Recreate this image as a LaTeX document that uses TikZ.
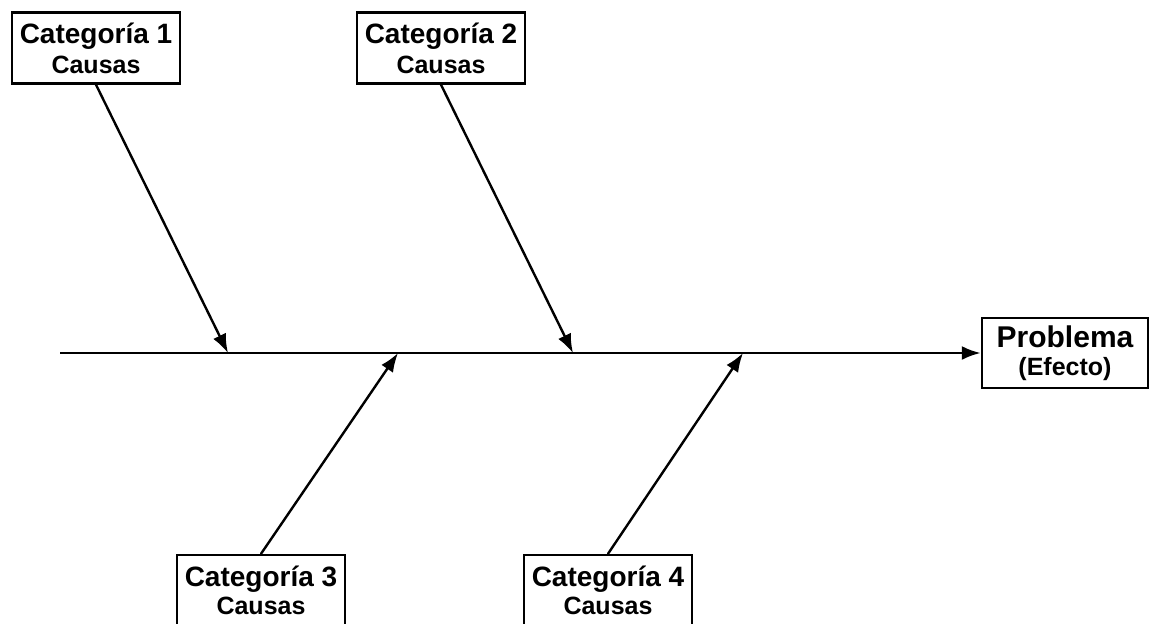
\documentclass[tikz,border=0pt]{standalone}
\usepackage{fontspec}
\setmainfont{Liberation Sans}
\usetikzlibrary{arrows.meta}
\definecolor{ink}{HTML}{000000}
\definecolor{paper}{HTML}{FFFFFF}
\newcommand\cattxt{\fontsize{14}{15.5}\selectfont}
\newcommand\subtxt{\fontsize{12.5}{15.5}\selectfont}
\tikzset{
  box/.style={draw=ink, fill=paper, line width=1.2pt, align=center, inner sep=0pt,
    minimum width=84pt, minimum height=35.5pt, font=\bfseries},
  spine/.style={draw=ink, line width=1.4pt, -{Latex[length=9.5pt,width=7pt]}},
  bone/.style={draw=ink, line width=1.2pt, line cap=round, -{Latex[length=9.5pt,width=7pt]}},
}
\begin{document}
\begin{tikzpicture}[x=0.5pt, y=-0.5pt]
  \useasboundingbox (0,0) rectangle (1150,627);
  \clip (0,0) rectangle (1150,623);
  % spine and where the bones meet it
  \coordinate (tail) at (60,353);
  \coordinate (h1) at (228,353);
  \coordinate (h2) at (573,353);
  \coordinate (h3) at (398,353);
  \coordinate (h4) at (743,353);
  % boxes
  \node[box] (cat1) at (96,48) {\cattxt Categoría 1\\[3pt]\subtxt Causas};
  \node[box] (cat2) at (441,48) {\cattxt Categoría 2\\[3pt]\subtxt Causas};
  \node[box] (cat3) at (261,590.5) {\cattxt Categoría 3\\[2pt]\subtxt Causas};
  \node[box] (cat4) at (608,590.5) {\cattxt Categoría 4\\[2pt]\subtxt Causas};
  \node[box, minimum width=83pt, minimum height=35pt] (prob) at (1065,353)
    {\fontsize{15}{16}\selectfont Problema\\[2pt]\subtxt (Efecto)};
  % arrows
  \draw[spine] (tail) -- (prob.west);
  \draw[bone] (cat1.south) -- (h1);
  \draw[bone] (cat2.south) -- (h2);
  \draw[bone] (cat3.north) -- (h3);
  \draw[bone] (cat4.north) -- (h4);
\end{tikzpicture}
\end{document}
